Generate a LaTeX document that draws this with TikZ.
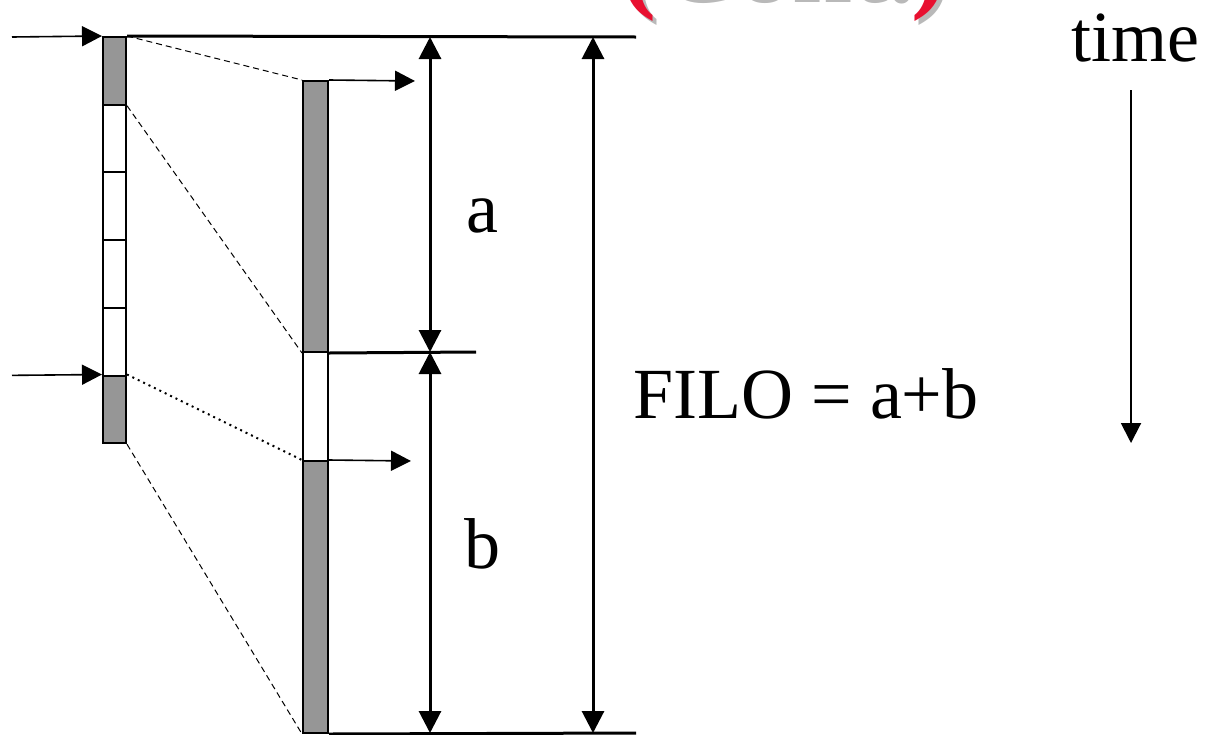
\documentclass[tikz,border=0pt]{standalone}
\usepackage{fontspec}
\setmainfont{Liberation Serif}
\usepackage{xcolor}
\usepackage{tikz}
\usetikzlibrary{arrows.meta, positioning, calc}
\definecolor{cellgray}{RGB}{150,150,150}
\definecolor{titlered}{RGB}{232,16,48}
\definecolor{shadowgray}{RGB}{185,185,185}
\tikzset{
  cell/.style={draw, line width=1pt, inner sep=0pt, minimum width=11.5pt, minimum height=33.85pt},
  bar/.style={draw, line width=1pt, inner sep=0pt, minimum width=12.5pt},
  line/.style={line width=1.5pt},
  arr/.style={line width=0.8pt, -{Triangle[length=10pt, width=10pt]}},
  dim/.style={line width=1.5pt, {Triangle[length=11pt, width=11pt]}-{Triangle[length=11pt, width=11pt]}},
  guide/.style={line width=0.5pt, dash pattern=on 3pt off 2pt},
  txt/.style={font=\fontsize{36}{40}\selectfont, anchor=base, inner sep=0pt},
  titletxt/.style={font=\fontsize{54}{60}\selectfont\bfseries, anchor=base, inner sep=0pt}
}
\begin{document}
\begin{tikzpicture}[x=0.5pt, y=-0.5pt]
  \useasboundingbox (0,0) rectangle (1209,734);
  \foreach \i/\c in {0/cellgray, 1/white, 2/white, 3/white, 4/white, 5/cellgray} {
    \node[cell, fill=\c] (c\i) at (114.5, 70.85+67.7*\i) {};
  }
  \node[bar, fill=cellgray, minimum height=135.5pt] (g1) at (315.5, 216.5) {};
  \node[bar, fill=white, minimum height=54.5pt] (w1) at (315.5, 406.5) {};
  \node[bar, fill=cellgray, minimum height=136pt] (g2) at (315.5, 597) {};

  \coordinate (inA) at (12, 37);
  \coordinate (inB) at (12, 375.35);
  \coordinate (outA) at (415, 81);
  \coordinate (outB) at (411, 461);
  \coordinate (topR) at (636, 37);
  \coordinate (midR) at (476, 352);
  \coordinate (botR) at (636, 733);
  \coordinate (aTop) at (430, 37);
  \coordinate (aBot) at (430, 352);
  \coordinate (bBot) at (430, 733);
  \coordinate (fTop) at (593, 37);
  \coordinate (fBot) at (593, 733);
  \coordinate (tTop) at (1131, 90);
  \coordinate (tBot) at (1131, 443);

  \draw[arr] (inA) -- (c0.north west);
  \draw[arr] (inB) -- (c5.north west);
  \draw[arr] (g1.north east) -- (outA);
  \draw[arr] (g2.north east) -- (outB);
  \draw[line] (c0.north east) -- (topR);
  \draw[line] (g1.south east) -- (midR);
  \draw[line] (g2.south east) -- (botR);

  \draw[guide] (c0.north east) -- (g1.north west);
  \draw[guide] (c0.south east) -- (g1.south west);
  \draw[line width=1pt, dotted] (c5.north east) -- (g2.north west);
  \draw[guide] (c5.south east) -- (g2.south west);

  \draw[dim] (aTop) -- (aBot);
  \draw[dim] (aBot) -- (bBot);
  \draw[dim] (fTop) -- (fBot);
  \draw[line width=1pt, -{Triangle[length=10pt, width=10pt]}] (tTop) -- (tBot);

  \node[txt] (la) at (482, 232) {a};
  \node[txt] (lb) at (482, 568) {b};
  \node[txt] (filo) at (806, 418) {FILO = a+b};
  \node[txt] (time) at (1135, 61) {time};

  \node[titletxt, text=shadowgray] (titleS) at (788, 2) {(Cont.)};
  \node[titletxt, text=titlered] (title) at (784, -2) {(Cont.)};
\end{tikzpicture}
\end{document}
